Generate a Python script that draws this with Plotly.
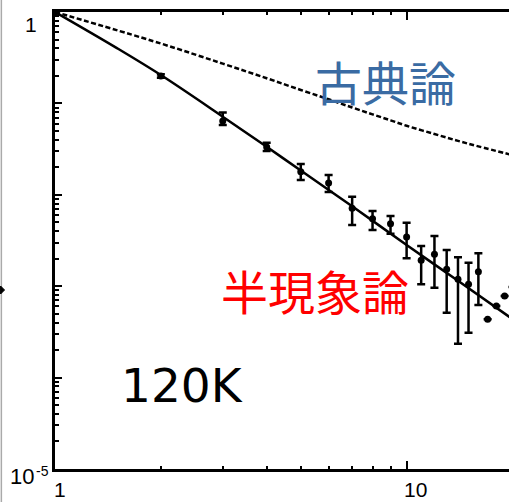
import numpy as np
import plotly.graph_objects as go

# ---- data ----
x_data = [1, 2, 3, 4, 5, 6, 7, 8, 9, 10, 11, 12, 13, 14, 15, 16, 17, 18, 19, 20]
y_data = [1.0, 0.200, 0.0641, 0.0333, 0.0179, 0.01346, 0.00711, 0.00548, 0.00483,
          0.00345, 0.00192, 0.00223, 0.00153, 0.00119, 0.00105, 0.00144,
          0.000435, 0.000607, 0.000782, 0.00098]
y_upper = [1.0, 0.209, 0.0794, 0.0372, 0.0217, 0.01648, 0.00953, 0.00665, 0.00586,
           0.00495, 0.00275, 0.00354, 0.00249, 0.00208, 0.00181, 0.00229,
           0.000435, 0.000607, 0.000782, 0.00098]
y_lower = [1.0, 0.191, 0.0580, 0.0302, 0.01452, 0.01073, 0.00468, 0.00412, 0.00375,
           0.00202, 0.00105, 0.000964, 0.000513, 0.000235, 0.00031, 0.000622,
           0.000435, 0.000607, 0.000782, 0.00098]

# semi-phenomenological model (solid)
x_semi = [1, 1.5, 2, 3, 4, 5, 7, 10, 14, 20]
y_semi = [1.0, 0.4027, 0.2042, 0.0716, 0.0335, 0.0184, 0.0075, 0.00282, 0.001148, 0.000437]

# classical model (dashed)
x_class = [1, 2, 3, 4, 5, 6, 7, 8, 9, 10, 12, 14, 16, 20]
y_class = [1.0, 0.4519, 0.2723, 0.1884, 0.1403, 0.1109, 0.0902, 0.0759, 0.0653, 0.0569,
           0.0462, 0.0389, 0.0339, 0.0272]

label_classic = "古典論"
label_semi = "半現象論"
label_temp = "120K"

# ---- geometry helpers (pixel -> paper) ----
W, H = 509, 502
L, R, T, B = 54.5, 0, 12, 33
PW, PH = W - L - R, H - T - B
def px(xp):
    return (xp - L) / PW
def py(yp):
    return (H - B - yp) / PH

err_plus = [u - y for u, y in zip(y_upper, y_data)]
err_minus = [y - l for l, y in zip(y_lower, y_data)]

fig = go.Figure()
fig.add_trace(go.Scatter(x=x_class, y=y_class, mode="lines",
                         line=dict(color="black", width=2.5, dash="5px,2.5px", shape="spline"),
                         showlegend=False))
fig.add_trace(go.Scatter(x=x_semi, y=y_semi, mode="lines",
                         line=dict(color="black", width=2.5, shape="spline"),
                         showlegend=False))
fig.add_trace(go.Scatter(x=x_data, y=y_data, mode="markers",
                         marker=dict(color="black", size=7, symbol="circle"),
                         error_y=dict(type="data", array=err_plus, arrayminus=err_minus,
                                      color="black", thickness=2.5, width=4, symmetric=False),
                         showlegend=False))

fig.update_xaxes(type="log", range=[0, PW / 352.0], showline=True, linecolor="black",
                 linewidth=2.5, mirror="ticks", ticks="inside", ticklen=8, tickwidth=2,
                 tickcolor="black", dtick=1, showticklabels=False, showgrid=False,
                 zeroline=False,
                 minor=dict(ticks="inside", ticklen=3, tickwidth=2, tickcolor="black",
                            dtick="D1", showgrid=False))
fig.update_yaxes(type="log", range=[-5, 0], showline=True, linecolor="black",
                 linewidth=2.5, mirror=False, ticks="inside", ticklen=7, tickwidth=2,
                 tickcolor="black", dtick=1, showticklabels=False, showgrid=False,
                 zeroline=False,
                 minor=dict(ticks="inside", ticklen=4, tickwidth=2, tickcolor="black",
                            dtick="D1", showgrid=False))

tick_font = dict(family="Liberation Sans, Arial, sans-serif", color="black")
ann = [
    dict(x=px(30.5), y=py(24.5), text="1", font=dict(size=21, **tick_font)),
    dict(x=px(21.5), y=py(476.5), text="10", font=dict(size=22, **tick_font)),
    dict(x=px(41.5), y=py(471.5), text="-5", font=dict(size=14, **tick_font)),
    dict(x=px(60), y=py(489.5), text="1", font=dict(size=21, **tick_font)),
    dict(x=px(415), y=py(489.5), text="10", font=dict(size=21, **tick_font)),
    dict(x=px(385), y=py(80.5), text=label_classic,
         font=dict(size=47, family="Noto Sans CJK JP", color="rgb(58,107,163)")),
    dict(x=px(315), y=py(290), text=label_semi,
         font=dict(size=47, family="Noto Sans CJK JP", color="red")),
    dict(x=px(182), y=py(385), text=label_temp,
         font=dict(size=47, family="DejaVu Sans", color="black")),
]
for a in ann:
    a.update(xref="paper", yref="paper", showarrow=False, xanchor="center", yanchor="middle")

shapes = [
    dict(type="line", xref="paper", yref="paper", x0=px(0.8), x1=px(0.8), y0=py(0), y1=py(H),
         line=dict(color="rgb(170,170,170)", width=1.5)),
    dict(type="path", xref="paper", yref="paper",
         path=f"M {px(0)} {py(286)} L {px(4)} {py(290)} L {px(0)} {py(294)} Z",
         fillcolor="black", line=dict(color="black", width=1)),
]

fig.update_layout(width=W, height=H, margin=dict(l=L, r=R, t=T, b=B, pad=0),
                  plot_bgcolor="white", paper_bgcolor="white",
                  annotations=ann, shapes=shapes, showlegend=False)

fig.write_html("out.html")
